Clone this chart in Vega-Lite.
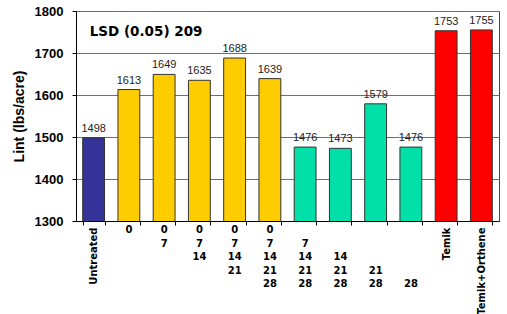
{
  "$schema": "https://vega.github.io/schema/vega-lite/v6.json",
  "width": 423,
  "height": 210,
  "autosize": {"type": "none"},
  "padding": {"left": 76, "top": 11, "right": 8, "bottom": 93},
  "background": "white",
  "config": {"view": {"stroke": "#444444", "strokeWidth": 1}, "font": "Arial"},
  "data": {
    "values": [
      {"cat": "Untreated", "days": "", "skip": 0, "lint": 1498, "grp": "untreated"},
      {"cat": "A", "days": "0", "skip": 0, "lint": 1613, "grp": "early"},
      {"cat": "B", "days": "0|7", "skip": 0, "lint": 1649, "grp": "early"},
      {"cat": "C", "days": "0|7|14", "skip": 0, "lint": 1635, "grp": "early"},
      {"cat": "D", "days": "0|7|14|21", "skip": 0, "lint": 1688, "grp": "early"},
      {"cat": "E", "days": "0|7|14|21|28", "skip": 0, "lint": 1639, "grp": "early"},
      {"cat": "F", "days": "7|14|21|28", "skip": 1, "lint": 1476, "grp": "late"},
      {"cat": "G", "days": "14|21|28", "skip": 2, "lint": 1473, "grp": "late"},
      {"cat": "H", "days": "21|28", "skip": 3, "lint": 1579, "grp": "late"},
      {"cat": "I", "days": "28", "skip": 4, "lint": 1476, "grp": "late"},
      {"cat": "Temik", "days": "", "skip": 0, "lint": 1753, "grp": "temik"},
      {"cat": "Temik+Orthene", "days": "", "skip": 0, "lint": 1755, "grp": "temik"}
    ]
  },
  "layer": [
    {
      "mark": {"type": "bar", "stroke": "#333333", "strokeWidth": 1, "clip": true},
      "encoding": {
        "x": {
          "field": "cat", "type": "nominal", "sort": null,
          "scale": {"paddingInner": 0.38, "paddingOuter": 0.19},
          "axis": {
            "title": null,
            "labelExpr": "indexof(['Untreated','Temik','Temik+Orthene'], datum.value) >= 0 ? datum.value : ''",
            "labelFont": "DejaVu Sans",
            "labelFontWeight": "bold",
            "labelFontSize": 10,
            "labelColor": "black",
            "labelAngle": -90,
            "labelPadding": 2,
            "labelOverlap": false,
            "labelBound": false,
            "labelFlush": false,
            "tickBand": "extent",
            "tickSize": 4,
            "tickColor": "black",
            "domainColor": "black",
            "zindex": 1
          }
        },
        "y": {
          "field": "lint", "type": "quantitative",
          "scale": {"domain": [1300, 1800], "nice": false, "zero": false},
          "axis": {
            "title": "Lint (lbs/acre)",
            "titleFont": "Arial",
            "titleFontSize": 14,
            "titleFontWeight": "bold",
            "titleColor": "black",
            "titlePadding": 8,
            "format": "d",
            "labelFont": "Arial",
            "labelFontSize": 13,
            "labelFontWeight": "bold",
            "labelColor": "black",
            "labelPadding": 9,
            "tickSize": 4,
            "tickColor": "black",
            "domainColor": "black",
            "values": [1300, 1400, 1500, 1600, 1700, 1800],
            "grid": true,
            "gridColor": "#6e6e6e",
            "gridOpacity": 1
          }
        },
        "color": {
          "field": "grp", "type": "nominal",
          "scale": {"domain": ["untreated", "early", "late", "temik"], "range": ["#333399", "#FFCC00", "#00E0A8", "#FF0000"]},
          "legend": null
        }
      }
    },
    {
      "mark": {"type": "text", "baseline": "alphabetic", "dy": -6, "fontSize": 11, "font": "Arial", "color": "#222222"},
      "encoding": {
        "x": {"field": "cat", "type": "nominal", "sort": null},
        "y": {"field": "lint", "type": "quantitative"},
        "text": {"field": "lint", "type": "quantitative", "format": "d"},
        "fontWeight": {"condition": {"test": "datum.grp == 'temik'", "value": "bold"}, "value": "normal"}
      }
    },
    {
      "transform": [{"filter": "datum.days != ''"}],
      "mark": {"type": "text", "baseline": "top", "align": "center", "lineBreak": "|", "lineHeight": 13.5, "dy": 4, "font": "DejaVu Sans", "fontWeight": "bold", "fontSize": 10, "color": "black", "clip": false},
      "encoding": {
        "x": {"field": "cat", "type": "nominal", "sort": null},
        "y": {"datum": 1300},
        "yOffset": {"field": "skip", "type": "quantitative", "scale": {"domain": [0, 4], "range": [0, 54]}},
        "text": {"field": "days"}
      }
    },
    {
      "data": {"values": [{"t": "LSD (0.05) 209"}]},
      "mark": {"type": "text", "align": "left", "baseline": "middle", "font": "DejaVu Sans", "fontWeight": "bold", "fontSize": 13.5, "dx": 7, "color": "black"},
      "encoding": {
        "x": {"datum": "Untreated", "bandPosition": 0},
        "y": {"datum": 1750},
        "text": {"field": "t"}
      }
    }
  ]
}
